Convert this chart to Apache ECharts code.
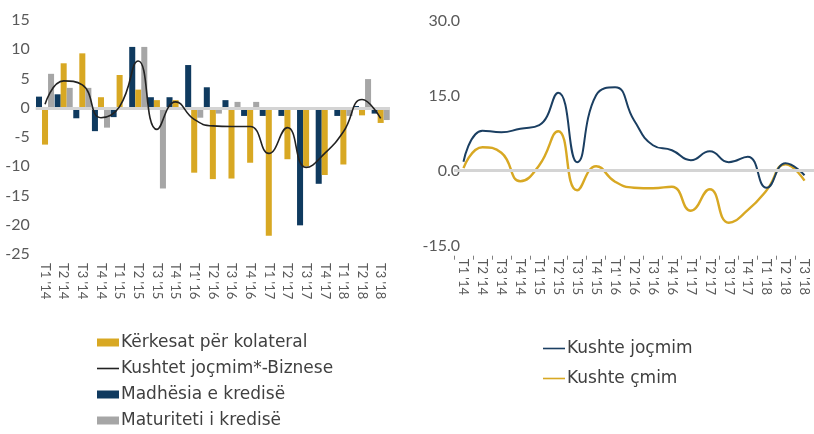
<!DOCTYPE html>
<html><head><meta charset="utf-8">
<script src="https://cdn.jsdelivr.net/npm/echarts@6/dist/echarts.min.js"></script>
<style>html,body{margin:0;padding:0;background:#fff}#c{width:814px;height:434px}</style>
</head><body><div id="c"></div>
<script>
const categories = ["T1 '14","T2 '14","T3 '14","T4 '14","T1 '15","T2 '15","T3 '15","T4 '15","T1' 16","T2 '16","T3 '16","T4 '16","T1 '17","T2 '17","T3 '17","T4 '17","T1 '18","T2 '18","T3 '18"];
// Left chart
const madhesia   = [1.9, 2.3, -1.8, -4.0, -1.6, 10.4, 1.8, 1.8, 7.3, 3.5, 1.3, -1.4, -1.4, -1.4, -20.1, -13.0, -1.4, 0.3, -1.0];
const kerkesat   = [-6.3, 7.6, 9.3, 1.8, 5.6, 3.1, 1.3, 1.3, -11.1, -12.2, -12.1, -9.4, -21.9, -8.8, -10.0, -11.5, -9.7, -1.3, -2.6];
const maturiteti = [5.8, 3.4, 3.4, -3.4, 0, 10.4, -13.8, 0, -1.7, -1.0, 1.0, 1.0, 0, 0, 0, 0, -1.4, 4.9, -2.1];
const kushtetBiz = [0.6, 4.6, 3.9, -1.7, 0.2, 8.0, -3.7, 1.0, -2.0, -3.1, -3.2, -3.2, -7.8, -3.4, -10.2, -7.8, -4.1, 1.4, -1.8];
// Right chart
const kushteJocmim = [1.8, 8.0, 7.7, 8.4, 9.1, 15.6, 1.7, 15.1, 16.7, 10.1, 5.1, 4.1, 2.1, 3.9, 1.7, 2.8, -3.4, 1.5, -0.9];
const kushteCmim   = [0.5, 4.7, 3.6, -2.1, 1.1, 7.9, -3.9, 0.9, -2.2, -3.4, -3.5, -3.2, -8.0, -3.7, -10.4, -7.9, -3.9, 1.3, -2.0];

const FONT = 'Lato';
const LFONT = 'DejaVu Sans';
const GOLD = '#D8A823', NAVY = '#0F3A5F', GRAY = '#A6A6A6', LNAVY = '#1B3F62';
const LINE_ICON = 'path://M0,0h22v1.6h-22z';
const axisLbl = {color:'#595959', fontFamily:FONT, fontSize:16};
const xLbl = {color:'#595959', fontFamily:FONT, fontSize:13, rotate:-90, interval:0};
const zeroLine = {silent:true, symbol:'none', label:{show:false},
  lineStyle:{color:'#D4D4D4', width:3, type:'solid'}, data:[{yAxis:0}]};

const chart = echarts.init(document.getElementById('c'));
chart.setOption({
  animation:false,
  grid:[
    {left:35.7, right:424, top:20, bottom:180},
    {left:454, right:-2, top:20.7, bottom:188.3}
  ],
  xAxis:[
    {type:'category', gridIndex:0, data:categories, position:'bottom',
     axisLine:{show:false, onZero:false}, axisTick:{show:false},
     axisLabel:Object.assign({margin:9}, xLbl)},
    {type:'category', gridIndex:1, data:categories, position:'bottom', offset:10,
     axisLine:{show:false, onZero:false}, axisTick:{show:true, length:4, lineStyle:{color:'#808080'}},
     axisLabel:Object.assign({margin:3}, xLbl)}
  ],
  yAxis:[
    {type:'value', gridIndex:0, min:-25, max:15, interval:5,
     axisLine:{show:false}, axisTick:{show:false}, splitLine:{show:false},
     axisLabel:Object.assign({margin:6}, axisLbl)},
    {type:'value', gridIndex:1, min:-15, max:30, interval:15,
     axisLine:{show:false}, axisTick:{show:false}, splitLine:{show:false},
     axisLabel:Object.assign({margin:-6, formatter:v=>v.toFixed(1)}, axisLbl)}
  ],
  legend:[
    {orient:'vertical', left:97, top:334, height:100, padding:0, itemWidth:22, itemHeight:8, itemGap:9,
     textStyle:{color:'#404040', fontFamily:LFONT, fontSize:17, padding:[0,0,0,-3]},
     data:[{name:'Kërkesat për kolateral', icon:'rect'}, {name:'Kushtet joçmim*-Biznese', icon:LINE_ICON},
           {name:'Madhësia e kredisë', icon:'rect'}, {name:'Maturiteti i kredisë', icon:'rect'}]},
    {orient:'vertical', left:543, top:340, padding:0, itemWidth:22, itemHeight:8, itemGap:13,
     textStyle:{color:'#404040', fontFamily:LFONT, fontSize:17, padding:[0,0,0,-3]},
     data:[{name:'Kushte joçmim', icon:LINE_ICON},{name:'Kushte çmim', icon:LINE_ICON}]}
  ],
  series:[
    {name:'Madhësia e kredisë', type:'bar', xAxisIndex:0, yAxisIndex:0, data:madhesia,
     itemStyle:{color:NAVY}, barGap:'0%', barCategoryGap:'3%', markLine:zeroLine},
    {name:'Kërkesat për kolateral', type:'bar', xAxisIndex:0, yAxisIndex:0, data:kerkesat,
     itemStyle:{color:GOLD}},
    {name:'Maturiteti i kredisë', type:'bar', xAxisIndex:0, yAxisIndex:0, data:maturiteti,
     itemStyle:{color:GRAY}},
    {name:'Kushtet joçmim*-Biznese', type:'line', xAxisIndex:0, yAxisIndex:0, data:kushtetBiz,
     smooth:0.5, symbol:'none', lineStyle:{color:'#222', width:1.6}, itemStyle:{color:'#222'}, z:5},
    {name:'Kushte joçmim', type:'line', xAxisIndex:1, yAxisIndex:1, data:kushteJocmim,
     smooth:0.5, symbol:'none', lineStyle:{color:LNAVY, width:2}, itemStyle:{color:LNAVY}, z:4,
     markLine:zeroLine},
    {name:'Kushte çmim', type:'line', xAxisIndex:1, yAxisIndex:1, data:kushteCmim,
     smooth:0.5, symbol:'none', lineStyle:{color:GOLD, width:2.4}, itemStyle:{color:GOLD}, z:3}
  ]
});
</script></body></html>
